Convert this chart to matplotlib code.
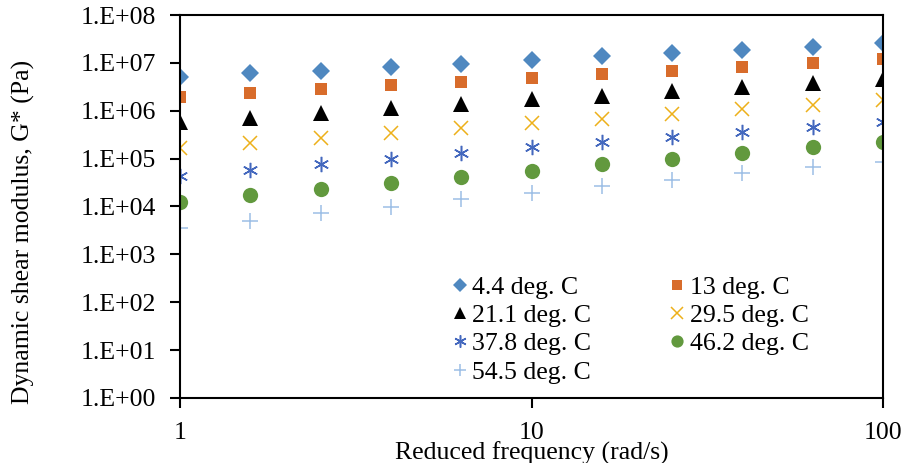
import numpy as np
import matplotlib.pyplot as plt
from matplotlib.ticker import FixedLocator, FuncFormatter, NullLocator

plt.rcParams['font.family'] = ['Liberation Serif', 'DejaVu Serif']

# reduced frequency (rad/s)
freq = [1.0, 1.585, 2.512, 3.981, 6.31, 10.0, 15.85, 25.12, 39.81, 63.1, 100.0]

# dynamic shear modulus G* (Pa) at each test temperature
g_4_4 = [4.95e6, 6.0e6, 6.9e6, 8.1e6, 9.7e6, 1.14e7, 1.38e7, 1.57e7, 1.87e7, 2.19e7, 2.58e7]
g_13 = [1.92e6, 2.33e6, 2.78e6, 3.37e6, 4.08e6, 4.86e6, 5.8e6, 6.9e6, 8.3e6, 9.9e6, 1.19e7]
g_21_1 = [5.9e5, 7.2e5, 9.05e5, 1.13e6, 1.40e6, 1.72e6, 2.05e6, 2.56e6, 3.06e6, 3.77e6, 4.57e6]
g_29_5 = [1.68e5, 2.07e5, 2.72e5, 3.46e5, 4.4e5, 5.43e5, 6.8e5, 8.5e5, 1.08e6, 1.33e6, 1.66e6]
g_37_8 = [4.4e4, 5.75e4, 7.7e4, 1.0e5, 1.32e5, 1.71e5, 2.18e5, 2.85e5, 3.63e5, 4.6e5, 5.78e5]
g_46_2 = [1.24e4, 1.7e4, 2.3e4, 3.1e4, 4.17e4, 5.56e4, 7.6e4, 9.9e4, 1.30e5, 1.74e5, 2.24e5]
g_54_5 = [3.5e3, 4.96e3, 7.2e3, 9.9e3, 1.41e4, 1.93e4, 2.67e4, 3.56e4, 4.9e4, 6.7e4, 8.7e4]

labels = ['4.4 deg. C', '13 deg. C', '21.1 deg. C', '29.5 deg. C',
          '37.8 deg. C', '46.2 deg. C', '54.5 deg. C']
series = [g_4_4, g_13, g_21_1, g_29_5, g_37_8, g_46_2, g_54_5]

styles = [
    dict(marker='D', color='#4F88C0', ms=9.5, mew=0),
    dict(marker='s', color='#D86C2B', ms=9, mew=0),
    dict(marker='^', color='black', ms=11, mew=0),
    dict(marker='x', color='#EDB01A', ms=10, mew=1.1),
    dict(marker=(6, 2, 0), color='#4468BE', ms=11, mew=1.1),
    dict(marker='o', color='#62993E', ms=11, mew=0),
    dict(marker='+', color='#9DBFE6', ms=11, mew=1.1),
]

fs = 18.5

fig = plt.figure(figsize=(9.06, 4.63), dpi=100)
ax = fig.add_axes([0.1987, 0.1404, 0.7759, 0.8272])

handles = []
for vals, lab, st in zip(series, labels, styles):
    h, = ax.plot(freq, vals, linestyle='none', label=lab, **st)
    handles.append(h)

ax.set_xscale('log')
ax.set_yscale('log')
ax.set_xlim(1, 100)
ax.set_ylim(1, 1e8)

ax.xaxis.set_major_locator(FixedLocator([1, 10, 100]))
ax.xaxis.set_major_formatter(FuncFormatter(lambda v, p: f'{v:g}'))
ax.xaxis.set_minor_locator(NullLocator())
ax.yaxis.set_major_locator(FixedLocator([10.0 ** k for k in range(9)]))
ax.yaxis.set_major_formatter(
    FuncFormatter(lambda v, p: f'1.E+{int(round(np.log10(v))):02d}'))
ax.yaxis.set_minor_locator(NullLocator())

ax.tick_params(axis='both', direction='out', length=7.5, width=1.5,
               labelsize=fs, colors='black')
ax.tick_params(axis='x', pad=10)
ax.tick_params(axis='y', pad=9.5)
for sp in ax.spines.values():
    sp.set_linewidth(1.5)

ax.set_xlabel('Reduced frequency (rad/s)', fontsize=fs)
ax.xaxis.set_label_coords(0.5, -0.113)
ax.set_ylabel('Dynamic shear modulus, G* (Pa)', fontsize=fs)
ax.yaxis.set_label_coords(-0.207, 0.433)

# row-wise legend order: two entries per row
order = [0, 2, 4, 6, 1, 3, 5]
ax.legend([handles[i] for i in order], [labels[i] for i in order],
          loc='upper left', bbox_to_anchor=(0.387, 0.318), ncol=2, frameon=False,
          fontsize=fs, handlelength=0.6, handletextpad=0.18, columnspacing=3.05,
          labelspacing=0.2, borderaxespad=0, borderpad=0, markerscale=0.8)

fig.savefig('out.png', dpi=100)
